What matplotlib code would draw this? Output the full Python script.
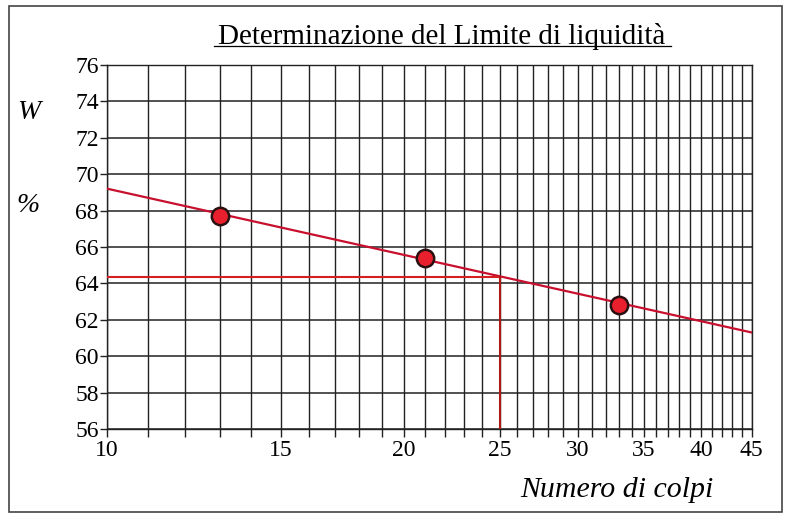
import numpy as np
import matplotlib
matplotlib.use("Agg")
from matplotlib import pyplot as plt
from matplotlib.patches import Rectangle
from matplotlib.ticker import FixedLocator, NullFormatter

# data
colpi = [13, 21, 33]
umidita = [67.7, 65.4, 62.8]
fit_x = [10, 45]
fit_y = [69.2, 61.3]
n_ref = 25
w_ll = 64.35
x_major = [10, 15, 20, 25, 30, 35, 40, 45]
x_minor = list(range(10, 46))
y_ticks = list(range(56, 77, 2))

plt.rcParams["font.family"] = ["Liberation Serif", "DejaVu Serif"]

fig = plt.figure(figsize=(7.88, 5.15), dpi=100)
ax = fig.add_axes([0.136, 0.167, 0.818, 0.707])

ax.set_xscale("log")
ax.set_xlim(10, 45)
ax.set_ylim(56, 76)

ax.xaxis.set_major_locator(FixedLocator(x_major))
ax.xaxis.set_minor_locator(FixedLocator(x_minor))
ax.set_xticklabels([str(v) for v in x_major])
ax.xaxis.set_minor_formatter(NullFormatter())
ax.set_yticks(y_ticks)

ax.grid(True, which="both", axis="x", color="#222222", linewidth=1.0)
ax.grid(True, which="major", axis="y", color="#222222", linewidth=1.1)
ax.set_axisbelow(True)
for s in ax.spines.values():
    s.set_color("#222222")
    s.set_linewidth(1.0)

ax.tick_params(axis="x", which="both", direction="out", length=6, width=1,
               color="#222222", labelsize=17, pad=2)
ax.tick_params(axis="y", which="major", direction="out", length=5, width=1,
               color="#222222", labelsize=17, pad=1)

# fitted line and liquid limit construction
ax.plot(fit_x, fit_y, color="#c8102e", linewidth=1.6, zorder=3)
ax.plot([10, n_ref], [w_ll, w_ll], color="#d42020", linewidth=1.5, zorder=3)
ax.plot([n_ref, n_ref], [56, w_ll], color="#b01818", linewidth=1.5, zorder=3)
ax.plot(colpi, umidita, "o", markersize=12.5, markerfacecolor="#e8202e",
        markeredgecolor="#2a1010", markeredgewidth=1.8, zorder=4)

fig.text(0.561, 0.93, "Determinazione del Limite di liquidità",
         ha="center", va="center", fontsize=21)
fig.add_artist(plt.Line2D([0.272, 0.851], [0.911, 0.911], color="black",
                          linewidth=0.9))
fig.text(0.036, 0.782, "W", ha="center", va="center", fontsize=20,
         style="italic")
fig.text(0.036, 0.601, "%", ha="center", va="center", fontsize=20,
         style="italic")
fig.text(0.783, 0.048, "Numero di colpi", ha="center", va="center",
         fontsize=21.5, style="italic")

fig.add_artist(Rectangle((0.012, 0.006), 0.98, 0.983, transform=fig.transFigure,
                         fill=False, edgecolor="#444444", linewidth=1.2))

fig.savefig("out.png", dpi=100)
